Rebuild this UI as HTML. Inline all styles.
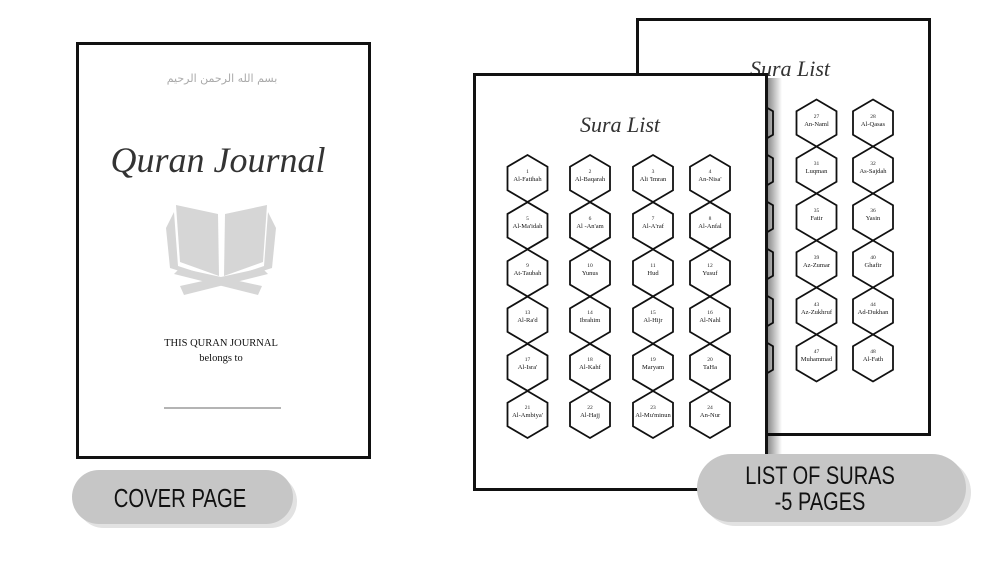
<!DOCTYPE html>
<html><head><meta charset="utf-8"><style>
html,body{margin:0;padding:0;background:#fff;width:1005px;height:565px;overflow:hidden}
svg{display:block}
.n{font-family:"Liberation Serif",serif;font-size:5.5px;fill:#222;text-anchor:middle}
.s{font-family:"Liberation Serif",serif;font-size:6.5px;fill:#111;text-anchor:middle}
.sc{font-family:"Liberation Serif",serif;font-style:italic;fill:#333;text-anchor:middle}
.btn{font-family:"Liberation Sans",sans-serif;fill:#111;text-anchor:middle}
</style></head><body>
<svg width="1005" height="565" viewBox="0 0 1005 565" xmlns="http://www.w3.org/2000/svg">
<defs>
<polygon id="hx" points="0,-23.5 20,-11.75 20,11.75 0,23.5 -20,11.75 -20,-11.75" fill="#fff" stroke="#111" stroke-width="1.8"/>
<linearGradient id="sh" x1="0" x2="1"><stop offset="0" stop-color="#000" stop-opacity="0.45"/><stop offset="1" stop-color="#000" stop-opacity="0"/></linearGradient>
</defs>

<!-- Cover page -->
<rect x="77.5" y="43.5" width="292" height="414" fill="#fff" stroke="#111" stroke-width="3"/>
<text x="222" y="82" font-family="'DejaVu Sans',sans-serif" font-size="11" fill="#aaa" text-anchor="middle">بسم الله الرحمن الرحيم</text>
<text x="218" y="172" class="sc" font-size="36">Quran Journal</text>
<!-- book -->
<g fill="#d6d6d6">
<path d="M176,205 L218,214 L219,276 L180,262 Z"/>
<path d="M267,205 L225,214 L224,276 L263,262 Z"/>
<path d="M166,228 L174,212 L178,266 L221,280 L221,284 L170,268 Z"/>
<path d="M276,228 L268,212 L264,266 L222,280 L222,284 L272,268 Z"/>
<path d="M180,286 L262,268 L268,274 L184,295 Z"/>
<path d="M262,286 L180,268 L174,274 L258,295 Z"/>
</g>
<text x="221" y="346" font-family="'Liberation Serif',serif" font-size="10.5" fill="#111" text-anchor="middle">THIS QURAN JOURNAL</text>
<text x="221" y="361" font-family="'Liberation Serif',serif" font-size="10.5" fill="#111" text-anchor="middle">belongs to</text>
<line x1="164" y1="408" x2="281" y2="408" stroke="#888" stroke-width="1.2"/>

<!-- Cover button -->
<rect x="77" y="475" width="220" height="53" rx="26.5" fill="#e2e2e2"/>
<rect x="72" y="470" width="221" height="54" rx="27" fill="#c6c6c6"/>
<text class="btn" font-size="26" transform="translate(180 507) scale(0.78 1)">COVER PAGE</text>

<!-- Back page -->
<rect x="637.5" y="19.5" width="292" height="415" fill="#fff" stroke="#111" stroke-width="3"/>
<text x="790" y="76" class="sc" font-size="22">Sura List</text>
<g>
<use href="#hx" x="753" y="123"/><use href="#hx" x="753" y="170"/><use href="#hx" x="753" y="217"/><use href="#hx" x="753" y="264"/><use href="#hx" x="753" y="311"/><use href="#hx" x="753" y="358"/>
<use href="#hx" x="816.5" y="123"/><use href="#hx" x="816.5" y="170"/><use href="#hx" x="816.5" y="217"/><use href="#hx" x="816.5" y="264"/><use href="#hx" x="816.5" y="311"/><use href="#hx" x="816.5" y="358"/>
<use href="#hx" x="873" y="123"/><use href="#hx" x="873" y="170"/><use href="#hx" x="873" y="217"/><use href="#hx" x="873" y="264"/><use href="#hx" x="873" y="311"/><use href="#hx" x="873" y="358"/>
</g>
<g>
<text class="n" x="816.5" y="118">27</text><text class="s" x="816.5" y="126">An-Naml</text>
<text class="n" x="873" y="118">28</text><text class="s" x="873" y="126">Al-Qasas</text>
<text class="n" x="816.5" y="165">31</text><text class="s" x="816.5" y="173">Luqman</text>
<text class="n" x="873" y="165">32</text><text class="s" x="873" y="173">As-Sajdah</text>
<text class="n" x="816.5" y="212">35</text><text class="s" x="816.5" y="220">Fatir</text>
<text class="n" x="873" y="212">36</text><text class="s" x="873" y="220">Yasin</text>
<text class="n" x="816.5" y="259">39</text><text class="s" x="816.5" y="267">Az-Zumar</text>
<text class="n" x="873" y="259">40</text><text class="s" x="873" y="267">Ghafir</text>
<text class="n" x="816.5" y="306">43</text><text class="s" x="816.5" y="314">Az-Zukhruf</text>
<text class="n" x="873" y="306">44</text><text class="s" x="873" y="314">Ad-Dukhan</text>
<text class="n" x="816.5" y="353">47</text><text class="s" x="816.5" y="361">Muhammad</text>
<text class="n" x="873" y="353">48</text><text class="s" x="873" y="361">Al-Fath</text>
</g>

<!-- Front page shadow -->
<rect x="768" y="78" width="14" height="410" fill="url(#sh)"/>
<!-- Front page -->
<rect x="474.5" y="74.5" width="292" height="415" fill="#fff" stroke="#111" stroke-width="3"/>
<text x="620" y="132" class="sc" font-size="22">Sura List</text>
<g>
<use href="#hx" x="527.5" y="178.5"/><use href="#hx" x="527.5" y="225.7"/><use href="#hx" x="527.5" y="272.9"/><use href="#hx" x="527.5" y="320.1"/><use href="#hx" x="527.5" y="367.3"/><use href="#hx" x="527.5" y="414.5"/>
<use href="#hx" x="590" y="178.5"/><use href="#hx" x="590" y="225.7"/><use href="#hx" x="590" y="272.9"/><use href="#hx" x="590" y="320.1"/><use href="#hx" x="590" y="367.3"/><use href="#hx" x="590" y="414.5"/>
<use href="#hx" x="653" y="178.5"/><use href="#hx" x="653" y="225.7"/><use href="#hx" x="653" y="272.9"/><use href="#hx" x="653" y="320.1"/><use href="#hx" x="653" y="367.3"/><use href="#hx" x="653" y="414.5"/>
<use href="#hx" x="710" y="178.5"/><use href="#hx" x="710" y="225.7"/><use href="#hx" x="710" y="272.9"/><use href="#hx" x="710" y="320.1"/><use href="#hx" x="710" y="367.3"/><use href="#hx" x="710" y="414.5"/>
</g>
<g>
<text class="n" x="527.5" y="173">1</text><text class="s" x="527.5" y="181">Al-Fatihah</text>
<text class="n" x="590" y="173">2</text><text class="s" x="590" y="181">Al-Baqarah</text>
<text class="n" x="653" y="173">3</text><text class="s" x="653" y="181">Ali 'Imran</text>
<text class="n" x="710" y="173">4</text><text class="s" x="710" y="181">An-Nisa'</text>
<text class="n" x="527.5" y="220">5</text><text class="s" x="527.5" y="228">Al-Ma'idah</text>
<text class="n" x="590" y="220">6</text><text class="s" x="590" y="228">Al -An'am</text>
<text class="n" x="653" y="220">7</text><text class="s" x="653" y="228">Al-A'raf</text>
<text class="n" x="710" y="220">8</text><text class="s" x="710" y="228">Al-Anfal</text>
<text class="n" x="527.5" y="267">9</text><text class="s" x="527.5" y="275">At-Taubah</text>
<text class="n" x="590" y="267">10</text><text class="s" x="590" y="275">Yunus</text>
<text class="n" x="653" y="267">11</text><text class="s" x="653" y="275">Hud</text>
<text class="n" x="710" y="267">12</text><text class="s" x="710" y="275">Yusuf</text>
<text class="n" x="527.5" y="314">13</text><text class="s" x="527.5" y="322">Al-Ra'd</text>
<text class="n" x="590" y="314">14</text><text class="s" x="590" y="322">Ibrahim</text>
<text class="n" x="653" y="314">15</text><text class="s" x="653" y="322">Al-Hijr</text>
<text class="n" x="710" y="314">16</text><text class="s" x="710" y="322">Al-Nahl</text>
<text class="n" x="527.5" y="361">17</text><text class="s" x="527.5" y="369">Al-Isra'</text>
<text class="n" x="590" y="361">18</text><text class="s" x="590" y="369">Al-Kahf</text>
<text class="n" x="653" y="361">19</text><text class="s" x="653" y="369">Maryam</text>
<text class="n" x="710" y="361">20</text><text class="s" x="710" y="369">TaHa</text>
<text class="n" x="527.5" y="409">21</text><text class="s" x="527.5" y="417">Al-Ambiya'</text>
<text class="n" x="590" y="409">22</text><text class="s" x="590" y="417">Al-Hajj</text>
<text class="n" x="653" y="409">23</text><text class="s" x="653" y="417">Al-Mu'minun</text>
<text class="n" x="710" y="409">24</text><text class="s" x="710" y="417">An-Nur</text>
</g>

<!-- Right button -->
<rect x="702" y="459" width="269" height="67" rx="33.5" fill="#e2e2e2"/>
<rect x="697" y="454" width="269" height="68" rx="34" fill="#c6c6c6"/>
<text class="btn" font-size="25" transform="translate(820 484) scale(0.8 1)">LIST OF SURAS</text>
<text class="btn" font-size="25" transform="translate(820 510) scale(0.8 1)">-5 PAGES</text>
</svg>
</body></html>
